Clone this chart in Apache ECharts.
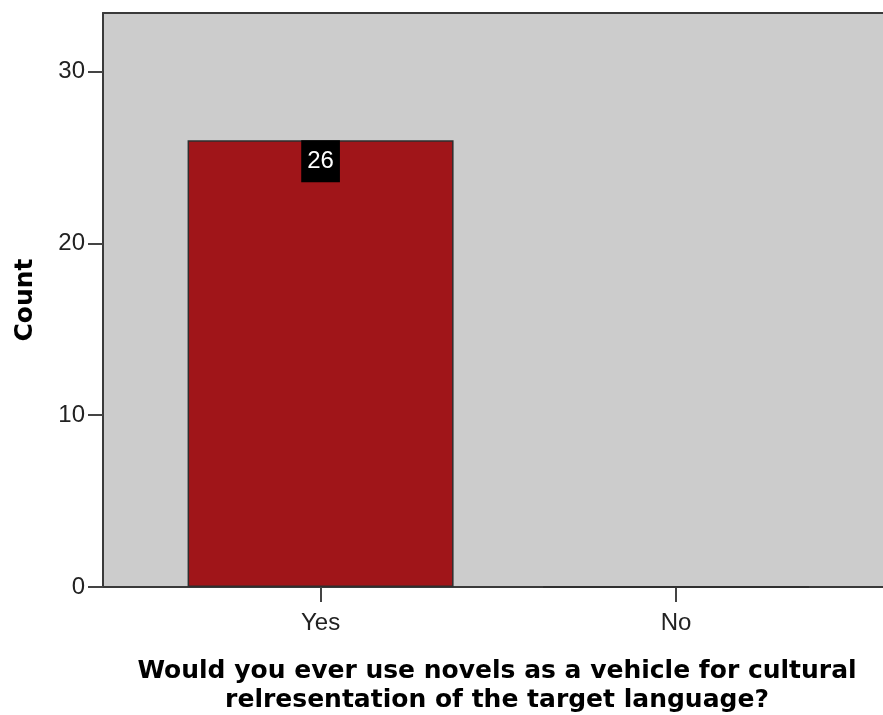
<!DOCTYPE html>
<html>
<head>
<meta charset="utf-8">
<script src="https://cdn.jsdelivr.net/npm/echarts@6/dist/echarts.min.js"></script>
<style>
  html, body { margin: 0; padding: 0; background: #ffffff; }
  #chart { width: 883px; height: 715px; }
</style>
</head>
<body>
<div id="chart"></div>
<script>
// Survey answers and their counts
const categories = ['Yes', 'No'];
const counts = [26, 0];
const yTicks = [0, 10, 20, 30];

const xTitle = 'Would you ever use novels as a vehicle for cultural\nrelresentation of the target language?';
const yTitle = 'Count';

// Each answer sits at its index on a numeric x axis; empty bars carry no label
const barData = counts.map((v, i) => ({
  value: [i, v],
  label: { show: v > 0 }
}));
const categoryPositions = categories.map((c, i) => i);

const xMin = -0.612;
const xMax = 1.582;

const chart = echarts.init(document.getElementById('chart'), null, { renderer: 'canvas' });

chart.setOption({
  animation: false,
  backgroundColor: '#ffffff',
  grid: {
    left: 103,
    right: 0,
    top: 13,
    bottom: 128,
    outerBoundsMode: 'none',
    containLabel: false,
    show: true,
    backgroundColor: '#cccccc',
    borderWidth: 0
  },
  xAxis: [{
    type: 'value',
    min: xMin,
    max: xMax,
    splitLine: { show: false },
    axisLine: { show: true, onZero: false, lineStyle: { color: '#3a3a3a', width: 2 } },
    axisTick: {
      show: true,
      length: 15,
      customValues: categoryPositions,
      lineStyle: { color: '#444444', width: 2 }
    },
    axisLabel: {
      customValues: categoryPositions,
      formatter: v => categories[Math.round(v)],
      margin: 24,
      color: '#222222',
      fontFamily: 'Liberation Sans',
      fontSize: 24
    },
    name: xTitle,
    nameLocation: 'middle',
    nameGap: 70,
    nameTextStyle: {
      color: '#000000',
      fontFamily: 'DejaVu Sans',
      fontWeight: 'bold',
      fontSize: 25,
      lineHeight: 29,
      padding: [0, 0, 0, 8]
    }
  }, {
    // top frame line of the plot area
    type: 'value',
    position: 'top',
    min: xMin,
    max: xMax,
    splitLine: { show: false },
    axisLine: { show: true, onZero: false, lineStyle: { color: '#3a3a3a', width: 2 } },
    axisTick: { show: false },
    axisLabel: { show: false }
  }],
  yAxis: {
    type: 'value',
    min: 0,
    max: 33.4,
    splitLine: { show: false },
    axisLine: { show: true, onZero: false, lineStyle: { color: '#3a3a3a', width: 2 } },
    axisTick: {
      show: true,
      length: 15,
      customValues: yTicks,
      lineStyle: { color: '#444444', width: 2 }
    },
    axisLabel: {
      customValues: yTicks,
      margin: 18,
      color: '#222222',
      fontFamily: 'Liberation Sans',
      fontSize: 24
    },
    name: yTitle,
    nameLocation: 'middle',
    nameGap: 65,
    nameTextStyle: {
      color: '#000000',
      fontFamily: 'DejaVu Sans',
      fontWeight: 'bold',
      fontSize: 25
    }
  },
  series: [{
    type: 'bar',
    data: barData,
    barWidth: 266,
    itemStyle: {
      color: '#a01519',
      borderColor: '#2e2e2e',
      borderWidth: 1.5
    },
    label: {
      position: 'insideTop',
      distance: 0,
      formatter: p => String(p.value[1]),
      color: '#ffffff',
      backgroundColor: '#000000',
      fontFamily: 'Liberation Sans',
      fontSize: 24,
      padding: [9, 6, 9, 6]
    }
  }]
});
</script>
</body>
</html>
